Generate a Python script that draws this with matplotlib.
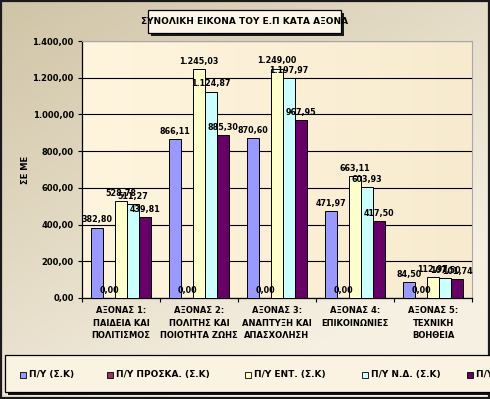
import numpy as np
import matplotlib
matplotlib.use("Agg")
import matplotlib.pyplot as plt
from matplotlib.patches import Rectangle

categories = [
    "ΑΞΟΝΑΣ 1:\nΠΑΙΔΕΙΑ ΚΑΙ\nΠΟΛΙΤΙΣΜΟΣ",
    "ΑΞΟΝΑΣ 2:\nΠΟΛΙΤΗΣ ΚΑΙ\nΠΟΙΟΤΗΤΑ ΖΩΗΣ",
    "ΑΞΟΝΑΣ 3:\nΑΝΑΠΤΥΞΗ ΚΑΙ\nΑΠΑΣΧΟΛΗΣΗ",
    "ΑΞΟΝΑΣ 4:\nΕΠΙΚΟΙΝΩΝΙΕΣ",
    "ΑΞΟΝΑΣ 5:\nΤΕΧΝΙΚΗ\nΒΟΗΘΕΙΑ",
]
series_names = ["Π/Υ (Σ.Κ)", "Π/Υ ΠΡΟΣΚΑ. (Σ.Κ)", "Π/Υ ΕΝΤ. (Σ.Κ)",
                "Π/Υ Ν.Δ. (Σ.Κ)", "Π/Υ ΠΛΗΡ. (Σ.Κ)"]
py_sk = [382.80, 866.11, 870.60, 471.97, 84.50]
py_prosk = [0.00, 0.00, 0.00, 0.00, 0.00]
py_ent = [528.78, 1245.03, 1249.00, 663.11, 112.97]
py_nd = [511.27, 1124.87, 1197.97, 603.93, 107.50]
py_plir = [439.81, 885.30, 967.95, 417.50, 101.74]
values = [py_sk, py_prosk, py_ent, py_nd, py_plir]
colors = ["#9999FF", "#993366", "#FFFFCC", "#CCFFFF", "#660066"]
yticks = [0, 200, 400, 600, 800, 1000, 1200, 1400]


def gr(v):
    # greek number format: 1.245,03
    return f"{v:,.2f}".replace(",", "X").replace(".", ",").replace("X", ".")


W, H = 490, 399
fig = plt.figure(figsize=(W / 100, H / 100), dpi=100)

# background gradient
bg = fig.add_axes([0, 0, 1, 1], zorder=-10)
yy, xx = np.mgrid[0:1:200j, 0:1:200j]
t = np.clip(0.55 * xx + 0.75 * yy, 0, 1)
c0 = np.array([208, 196, 166]) / 255
c1 = np.array([246, 240, 226]) / 255
img = c0[None, None, :] * (1 - t[..., None]) + c1[None, None, :] * t[..., None]
bg.imshow(img, extent=[0, 1, 0, 1], aspect="auto", origin="upper")
bg.set_axis_off()
bg.add_patch(Rectangle((0.002, 0.003), 0.995, 0.994, fill=False, ec="#1a1a1a",
                       lw=1.6, transform=bg.transAxes))

ax = fig.add_axes([82 / W, 1 - 298 / H, 390 / W, 257 / H])
# plot area gradient
ax.imshow(np.dstack([np.linspace(1.0, 0.97, 100)[None, :].repeat(50, 0),
                     np.linspace(0.96, 0.92, 100)[None, :].repeat(50, 0),
                     np.linspace(0.87, 0.81, 100)[None, :].repeat(50, 0)]),
          extent=[-0.5, 4.5, 0, 1400], aspect="auto", zorder=0)

x = np.arange(len(categories))
bw = 0.154
for i, (vals, col) in enumerate(zip(values, colors)):
    xs = x + (i - 2) * bw
    ax.bar(xs, vals, width=bw, color=col, edgecolor="black", linewidth=0.7, zorder=3)
    for xi, v in zip(xs, vals):
        ax.text(xi, v + 18, gr(v), ha="center", va="bottom", fontsize=5.8,
                fontweight="bold", zorder=5)

ax.set_xlim(-0.5, 4.5)
ax.set_ylim(0, 1400)
ax.set_yticks(yticks)
ax.set_yticklabels([gr(v) for v in yticks], fontsize=6, fontweight="bold")
ax.yaxis.grid(True, color="black", lw=0.8, zorder=1)
ax.set_axisbelow(True)
ax.set_xticks(np.arange(-0.5, 5, 1))
ax.set_xticklabels([])
ax.set_xticks(x, minor=True)
ax.set_xticklabels(categories, minor=True, fontsize=6, fontweight="bold",
                   linespacing=1.5)
ax.tick_params(axis="x", which="minor", length=0, pad=6)
ax.tick_params(axis="x", which="major", length=3, direction="out")
ax.tick_params(axis="y", length=3, direction="out", pad=3)
for s in ["top", "right"]:
    ax.spines[s].set_color("#a8a8a8")
    ax.spines[s].set_linewidth(0.8)
for s in ["left", "bottom"]:
    ax.spines[s].set_color("black")
    ax.spines[s].set_linewidth(0.9)
ax.set_ylabel("ΣΕ ΜΕ", fontsize=6, fontweight="bold")
ax.yaxis.set_label_coords((30 - 82) / 390, 0.5)

# title box
fig.patches.append(Rectangle((151 / W, 1 - 36 / H), 193 / W, 23 / H, fc="#1a1a1a",
                             ec="none", transform=fig.transFigure, zorder=5))
fig.patches.append(Rectangle((148 / W, 1 - 33 / H), 193 / W, 23 / H, fc="#FCF6E8",
                             ec="black", lw=0.9, transform=fig.transFigure, zorder=6))
fig.text(244.5 / W, 1 - 21.5 / H, "ΣΥΝΟΛΙΚΗ ΕΙΚΟΝΑ ΤΟΥ Ε.Π ΚΑΤΑ ΑΞΟΝΑ", ha="center",
         va="center", fontsize=6.5, fontweight="bold", zorder=7)

# legend box
fig.patches.append(Rectangle((8 / W, 1 - 395 / H), 490 / W, 38 / H, fc="#111111",
                             ec="none", transform=fig.transFigure, zorder=5))
fig.patches.append(Rectangle((5 / W, 1 - 392 / H), 490 / W, 37 / H, fc="#FBF3E2",
                             ec="black", lw=0.9, transform=fig.transFigure, zorder=6))
leg_x = [20, 107, 245, 362, 467]
for lx, name, col in zip(leg_x, series_names, colors):
    fig.patches.append(Rectangle((lx / W, 1 - 378 / H), 6 / W, 6 / H, fc=col,
                                 ec="black", lw=0.6, transform=fig.transFigure, zorder=7))
    fig.text((lx + 9) / W, 1 - 375 / H, name, ha="left", va="center", fontsize=6.5,
             fontweight="bold", zorder=8)

fig.savefig("out.png", dpi=100)
